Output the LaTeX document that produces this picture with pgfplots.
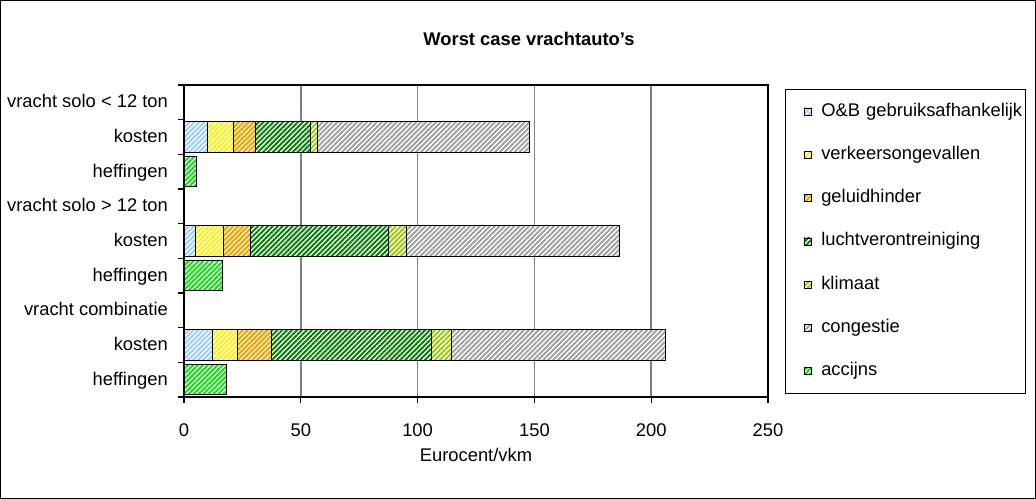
\documentclass[border=0pt,10pt]{standalone}
\usepackage{fontspec}
\setmainfont{Liberation Sans}
\usepackage{pgfplots}
\pgfplotsset{compat=1.18}
\usetikzlibrary{patterns.meta}

% segment colours (stripe colour, background colour)
\definecolor{obblue}{RGB}{153,204,255}
\definecolor{vkyellow}{RGB}{255,240,0}
\definecolor{glorange}{RGB}{255,153,0}
\definecolor{glback}{RGB}{204,255,204}
\definecolor{ldgreen}{RGB}{0,128,0}
\definecolor{klgreen}{RGB}{153,204,0}
\definecolor{cggray}{RGB}{160,160,160}
\definecolor{acgreen}{RGB}{0,230,0}
\definecolor{gridgray}{RGB}{128,128,128}

\pgfplotsset{
  seg/.style 2 args={
    draw=black, line width=0.55pt, fill=#2,
    postaction={pattern={Lines[angle=45,distance=1.9pt,line width=1.05pt]}, pattern color=#1},
    legend image code/.code={\path (0pt,0pt); \draw[##1, line width=0.4pt] (9.8pt,-1.9pt) rectangle (13.6pt,1.9pt);},
  },
}

\begin{document}
\begin{tikzpicture}
% chart frame and title
\draw[black, line width=0.7pt] (0.35pt,0.35pt) rectangle (564.27pt,271.6pt);
\node[font=\bfseries, anchor=base] at (288.3pt,247.4pt) {Worst case vrachtauto's};

\begin{axis}[
  at={(100.28pt,55.59pt)}, anchor=south west,
  scale only axis, width=318.28pt, height=170.04pt,
  xbar stacked, bar width=0.88,
  xmin=0, xmax=250, xtick={0,50,...,250},
  ymin=-0.5, ymax=8.5, y dir=reverse,
  ytick={-0.5,0.5,...,8.5}, yticklabels={},
  extra y ticks={0,1,2,3,4,5,6,7,8},
  extra y tick labels={vracht solo < 12 ton, kosten, heffingen, vracht solo > 12 ton, kosten, heffingen, vracht combinatie, kosten, heffingen},
  extra y tick style={major tick length=0pt},
  tick pos=left, tick align=outside, major tick length=3.2pt,
  tick style={black, line width=0.6pt},
  axis line style={black, line width=0.7pt},
  xmajorgrids, major grid style={gridgray, line width=0.9pt},
  /pgf/number format/assume math mode=true,
  xticklabel style={anchor=base, yshift=-18.6pt},
  yticklabel style={anchor=east, inner sep=0pt, xshift=-8.6pt, text height=8pt, text depth=1.9pt},
  xlabel={Eurocent/vkm},
  every axis x label/.style={at={(axis description cs:0.5,0)}, anchor=base, yshift=-34.9pt},
  legend cell align=left,
  legend style={
    at={(1.0291,0.9872)}, anchor=north west,
    draw=black, line width=0.5pt,
    inner xsep=0pt, inner ysep=7.5pt,
    row sep=14.6pt, column sep=5.45pt,
    nodes={inner sep=0pt, text height=7pt, text depth=2pt, text width=111pt},
  },
]
\addplot[seg={obblue}{white}]     coordinates {(10.0,1) (0,2) (5.0,4) (0,5) (12.4,7) (0,8)};
\addplot[seg={vkyellow}{white}]   coordinates {(11.4,1) (0,2) (12.0,4) (0,5) (10.6,7) (0,8)};
\addplot[seg={glorange}{glback}]  coordinates {(9.1,1) (0,2) (11.4,4) (0,5) (14.4,7) (0,8)};
\addplot[seg={ldgreen}{white}]    coordinates {(23.6,1) (0,2) (59.0,4) (0,5) (68.6,7) (0,8)};
\addplot[seg={klgreen}{white}]    coordinates {(3.0,1) (0,2) (7.8,4) (0,5) (8.6,7) (0,8)};
\addplot[seg={cggray}{white}]     coordinates {(90.6,1) (0,2) (91.3,4) (0,5) (91.4,7) (0,8)};
\addplot[seg={acgreen}{white}]    coordinates {(0,1) (5.3,2) (0,4) (16.4,5) (0,7) (18.1,8)};
\legend{O\&B gebruiksafhankelijk, verkeersongevallen, geluidhinder, luchtverontreiniging, klimaat, congestie, accijns}
\end{axis}
\end{tikzpicture}
\end{document}
